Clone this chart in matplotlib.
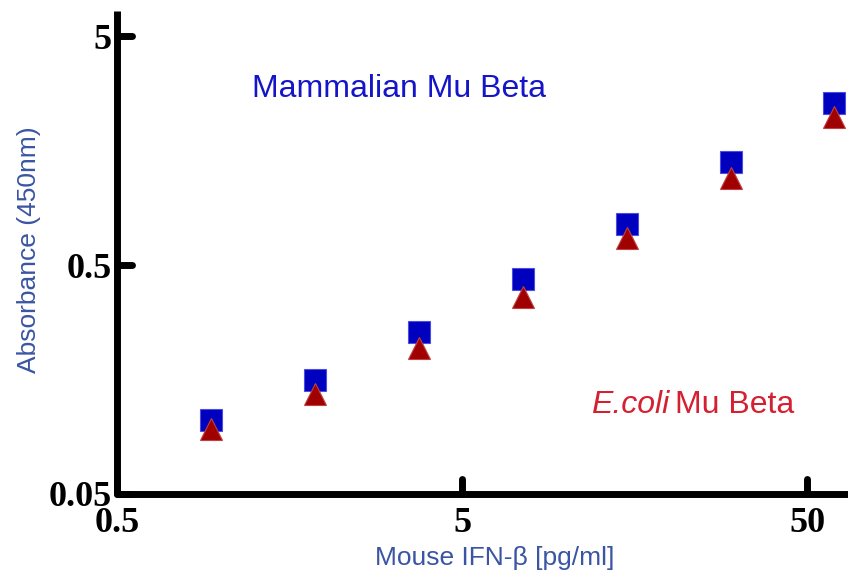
"""Absorbance at 450nm vs mouse IFN-beta concentration, mammalian vs E.coli Mu Beta."""
import matplotlib
matplotlib.use("Agg")
import matplotlib.pyplot as plt
from matplotlib.markers import MarkerStyle


# ---------------------------------------------------------------------------
# Data
# ---------------------------------------------------------------------------

CONC_PG_ML = [0.9375, 1.875, 3.75, 7.5, 15, 30, 60]
MAMMALIAN_ABS = [0.105, 0.157, 0.255, 0.434, 0.755, 1.41, 2.55]
ECOLI_ABS = [0.096, 0.137, 0.216, 0.364, 0.653, 1.205, 2.21]

X_TICKS = [0.5, 5, 50]
X_TICK_LABELS = ["0.5", "5", "50"]
Y_TICKS = [0.05, 0.5, 5]
Y_TICK_LABELS = ["0.05", "0.5", "5"]

LABEL_BLUE = "#3a55a3"
SQUARE_BLUE = "#0000bf"
TRI_RED = "#a00000"
ECOLI_RED = "#d42030"


def plot(out_path="out.png"):
    fig = plt.figure(figsize=(8.48, 5.75), dpi=100)
    ax = fig.add_axes([117 / 848, 81 / 575, 731 / 848, 483 / 575])

    ax.plot(CONC_PG_ML, MAMMALIAN_ABS, linestyle="none", marker="s", markersize=15.2,
            color=SQUARE_BLUE, markeredgecolor="#4d4de0", markeredgewidth=0.8,
            clip_on=False, zorder=3)
    ax.plot(CONC_PG_ML, ECOLI_ABS, linestyle="none", marker="^", markersize=15.2,
            color=TRI_RED, markeredgecolor="#c04040", markeredgewidth=0.8,
            clip_on=False, zorder=4)

    ax.set_xscale("log")
    ax.set_yscale("log")
    ax.set_xlim(0.5, 65.7)
    ax.set_ylim(0.05, 6.43)
    ax.minorticks_off()

    tick_font = {"family": "Liberation Serif", "weight": "bold", "size": 26}
    ax.set_xticks(X_TICKS)
    ax.set_xticklabels(X_TICK_LABELS, fontdict=tick_font)
    ax.set_yticks(Y_TICKS)
    ax.set_yticklabels(Y_TICK_LABELS, fontdict=tick_font)
    ax.tick_params(axis="both", direction="in", length=11, width=5, color="black")
    ax.tick_params(axis="x", pad=9)
    ax.tick_params(axis="y", pad=4)
    # rounded tick ends like the original
    for tl in ax.xaxis.get_ticklines() + ax.yaxis.get_ticklines():
        tl.set_marker(MarkerStyle(tl.get_marker(), capstyle="round"))

    for side in ("top", "right"):
        ax.spines[side].set_visible(False)
    for side in ("left", "bottom"):
        ax.spines[side].set_linewidth(5)
        ax.spines[side].set_capstyle("butt")

    ax.set_xlabel("Mouse IFN-β [pg/ml]", fontsize=19, color=LABEL_BLUE,
                  family="Liberation Sans")
    ax.xaxis.set_label_coords((495 - 117) / 731, -(546 - 494) / 483)
    ax.set_ylabel("Absorbance (450nm)", fontsize=19, color=LABEL_BLUE,
                  family="Liberation Sans")
    ax.yaxis.set_label_coords(-(117 - 41) / 731, (494 - 250) / 483)

    ax.text(399, 575 - 89, "Mammalian Mu Beta", transform=None, fontsize=23,
            color="#1414c8", family="Liberation Sans", ha="center", va="center")
    # "E.coli" in italics, then the rest upright
    ax.text(669, 575 - 405, "E.coli", transform=None, fontsize=23, style="italic",
            color=ECOLI_RED, family="Liberation Sans", ha="right", va="center")
    ax.text(675, 575 - 405, "Mu Beta", transform=None, fontsize=23,
            color=ECOLI_RED, family="Liberation Sans", ha="left", va="center")

    fig.savefig(out_path, dpi=100)
    plt.close(fig)


if __name__ == "__main__":
    plot()
